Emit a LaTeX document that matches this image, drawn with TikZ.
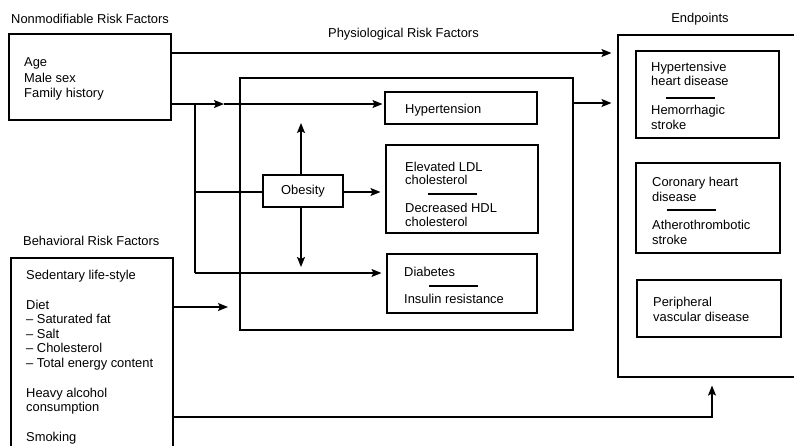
\documentclass[tikz,border=0pt]{standalone}
\usepackage{fontspec}
\setmainfont{Liberation Sans}
\usetikzlibrary{arrows.meta}
\begin{document}
\begin{tikzpicture}[x=1pt,y=-1pt,
  box/.style={draw, line width=1.1pt, minimum width=#1, inner sep=0pt},
  bh/.style={minimum height=#1},
  arr/.style={line width=1.4pt, -{Stealth[length=10pt,width=8pt,inset=2pt]}},
  ln/.style={line width=1.4pt},
  sepline/.style={line width=1.1pt},
  txt/.style={anchor=base west, inner sep=0pt, font=\fontsize{12.9}{14}\selectfont},
  ctxt/.style={anchor=base, inner sep=0pt, font=\fontsize{12.9}{14}\selectfont}]
\clip (0,0) rectangle (794,445);
\fill[white] (0,0) rectangle (794,445);

% boxes
\node[box=162pt, bh=86pt] (nonmod) at (90,77) {};
\node[box=333pt, bh=252pt] (physio) at (406.5,204) {};
\node[box=152pt, bh=32pt] (hyp) at (461,108) {};
\node[box=152pt, bh=88pt] (ldl) at (462,189) {};
\node[box=150pt, bh=59pt] (diab) at (462,283.5) {};
\node[box=80pt, bh=32pt, font=\fontsize{12.9}{14}\selectfont] (obes) at (303,191) {Obesity};
\node[box=192pt, bh=342pt] (ep) at (714,206) {};
\node[box=143pt, bh=87pt] (hhd) at (707.5,94.5) {};
\node[box=144pt, bh=90pt] (chd) at (708,208) {};
\node[box=144pt, bh=57pt] (pvd) at (709,308.5) {};
\node[box=162pt, bh=202pt] (behav) at (92,359) {};

% headings
\node[txt] (hnon) at (11,23.5) {Nonmodifiable Risk Factors};
\node[txt] (hphys) at (328,37.5) {Physiological Risk Factors};
\node[ctxt] (hend) at (700,22.5) {Endpoints};
\node[txt] (hbeh) at (23,245.5) {Behavioral Risk Factors};

% nonmodifiable
\node[txt] (t1) at (24,66) {Age};
\node[txt] (t2) at (24,82) {Male sex};
\node[txt] (t3) at (24,97.5) {Family history};

% physiological
\node[txt] (t4) at (405,113.5) {Hypertension};
\node[txt] (t5) at (405,171.5) {Elevated LDL};
\node[txt] (t6) at (405,184.5) {cholesterol};
\node[txt] (t7) at (405,212.5) {Decreased HDL};
\node[txt] (t8) at (405,226.5) {cholesterol};
\node[txt] (t9) at (404,276.5) {Diabetes};
\node[txt] (t10) at (404,303.5) {Insulin resistance};
\draw[sepline] (428,194) -- (477,194);
\draw[sepline] (429,286) -- (478,286);

% endpoints
\node[txt] (t11) at (651,71.5) {Hypertensive};
\node[txt] (t12) at (651,85.5) {heart disease};
\node[txt] (t13) at (651,114.5) {Hemorrhagic};
\node[txt] (t14) at (651,129.5) {stroke};
\draw[sepline] (666,98) -- (715,98);
\node[txt] (t15) at (652,186.5) {Coronary heart};
\node[txt] (t16) at (652,201.5) {disease};
\node[txt] (t17) at (652,229.5) {Atherothrombotic};
\node[txt] (t18) at (652,244.5) {stroke};
\draw[sepline] (667,210) -- (716,210);
\node[txt] (t19) at (653,306.5) {Peripheral};
\node[txt] (t20) at (653,321.5) {vascular disease};

% behavioral
\node[txt] (t21) at (26,279.5) {Sedentary life-style};
\node[txt] (t22) at (26,309.5) {Diet};
\node[txt] (t23) at (26,323.5) {– Saturated fat};
\node[txt] (t24) at (26,338.5) {– Salt};
\node[txt] (t25) at (26,352.5) {– Cholesterol};
\node[txt] (t26) at (26,367.5) {– Total energy content};
\node[txt] (t27) at (26,397.5) {Heavy alcohol};
\node[txt] (t28) at (26,411.5) {consumption};
\node[txt] (t29) at (26,441.5) {Smoking};

% connectors
\coordinate (mid) at (224,104);
\coordinate (jtop) at (195,104);
\coordinate (jobs) at (195,192);
\coordinate (jdia) at (195,273);
\coordinate (upend) at (301,123);
\coordinate (dnend) at (301,267);
\coordinate (behend) at (228,307);
\coordinate (bcorner) at (712,417);

\draw[arr, shorten >=6pt] (nonmod.east |- 0,53) -- (ep.west |- 0,53);
\draw[arr] (nonmod.east |- mid) -- (mid);
\draw[arr, shorten >=2pt] (mid) -- (hyp.west |- mid);
\draw[ln] (jtop) -- (jdia);
\draw[arr, shorten >=5pt] (jdia) -- (diab.west |- jdia);
\draw[ln] (jobs) -- (obes.west |- jobs);
\draw[arr, shorten >=5pt] (obes.east |- jobs) -- (ldl.west |- jobs);
\draw[arr] (obes.north -| upend) -- (upend);
\draw[arr] (obes.south -| dnend) -- (dnend);
\draw[arr, shorten >=6pt] (physio.east |- 0,103) -- (ep.west |- 0,103);
\draw[arr] (behav.east |- behend) -- (behend);
\draw[arr, shorten >=8pt] (behav.east |- bcorner) -- (bcorner) -- (ep.south -| bcorner);
\end{tikzpicture}
\end{document}
